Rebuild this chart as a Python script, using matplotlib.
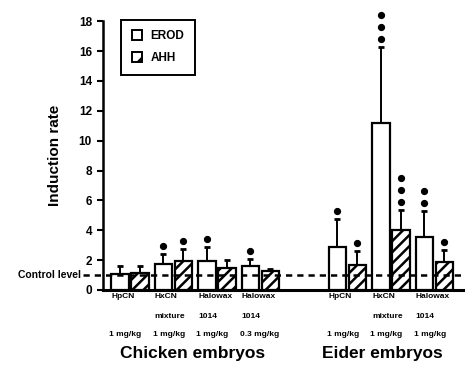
import matplotlib
matplotlib.use("Agg")
import matplotlib.pyplot as plt
import matplotlib.transforms as mtransforms
from matplotlib.patches import Patch
import numpy as np

plt.rcParams['font.family'] = ['Liberation Sans', 'DejaVu Sans']
plt.rcParams['font.weight'] = 'bold'
plt.rcParams['hatch.linewidth'] = 1.8

positions = [0, 1, 2, 3, 5, 6, 7]
row1 = ["HpCN", "HxCN", "Halowax", "Halowax", "HpCN", "HxCN", "Halowax"]
row2 = ["", "mixture", "1014", "1014", "", "mixture", "1014"]
row3 = ["1 mg/kg", "1 mg/kg", "1 mg/kg", "0.3 mg/kg", "1 mg/kg", "1 mg/kg", "1 mg/kg"]
erod = [1.05, 1.75, 1.95, 1.6, 2.9, 11.2, 3.55]
erod_top = [1.6, 2.4, 2.85, 2.1, 4.75, 16.3, 5.3]
ahh = [1.15, 1.95, 1.5, 1.25, 1.7, 4.0, 1.9]
ahh_top = [1.6, 2.75, 2.0, 1.4, 2.6, 5.35, 2.65]
erod_stars = [0, 1, 1, 1, 1, 3, 2]
ahh_stars = [0, 1, 0, 0, 1, 3, 1]
groups = ["Chicken embryos", "Eider embryos"]
group_pos = [1.43, 5.8]
yticks = [0, 2, 4, 6, 8, 10, 12, 14, 16, 18]
control = 1.0

fig = plt.figure(figsize=(4.77, 3.65), dpi=100)
ax = fig.add_axes([0.216, 0.2055, 0.755, 0.7365])

x = np.array(positions, dtype=float)
w = 0.4
off = 0.23

ax.bar(x - off, erod, width=w, color='white', edgecolor='black', linewidth=1.6, zorder=3)
ax.bar(x + off, ahh, width=w, color='white', edgecolor='black', linewidth=1.6,
       hatch='///', zorder=3)

for xs, vals, tops in [(x - off, erod, erod_top), (x + off, ahh, ahh_top)]:
    err = np.array(tops) - np.array(vals)
    ax.errorbar(xs, vals, yerr=[np.zeros_like(err), err], fmt='none', ecolor='black',
                elinewidth=1.4, capsize=2.5, capthick=2, zorder=2)

for xs, tops, ns in [(x - off, erod_top, erod_stars), (x + off, ahh_top, ahh_stars)]:
    for xi, t, n in zip(xs, tops, ns):
        for k in range(n):
            tr = mtransforms.offset_copy(ax.transData, fig=fig, x=0, y=5.8 + 8.6 * k, units='points')
            ax.plot([xi], [t], marker='o', ms=4.2, color='black', transform=tr,
                    clip_on=False, zorder=4)

ax.set_xlim(-0.62, 7.66)
ax.set_ylim(0, 18)
ax.set_yticks(yticks)
ax.set_yticklabels([str(v) for v in yticks], fontsize=8.5, fontweight='bold')
ax.tick_params(axis='y', direction='out', length=4, width=1.5, pad=4)
ax.set_xticks([])
for s in ['top', 'right']:
    ax.spines[s].set_visible(False)
ax.spines['left'].set_linewidth(1.8)
ax.spines['bottom'].set_linewidth(2.2)

ax.plot([-1.08, 7.66], [control, control], ls=(0, (2.5, 2)), color='black', lw=1.8,
        clip_on=False, zorder=5)
ax.text(-1.12, control, "Control level", ha='right', va='center', fontsize=7.5,
        fontweight='bold')

ax.set_ylabel("Induction rate", fontsize=11, fontweight='bold', labelpad=12)

trans = mtransforms.blended_transform_factory(ax.transData, ax.transAxes)
for xi, a, b, c in zip(x, row1, row2, row3):
    xl = xi - off - w / 2
    ax.text(xl, -0.026, a, transform=trans, ha='left', va='center', fontsize=6, fontweight='bold')
    ax.text(xl, -0.10, b, transform=trans, ha='left', va='center', fontsize=6, fontweight='bold')
    ax.text(xl - 0.05, -0.164, c, transform=trans, ha='left', va='center', fontsize=6, fontweight='bold')
for gp, g in zip(group_pos, groups):
    ax.text(gp, -0.235, g, transform=trans, ha='center', va='center', fontsize=12.5,
            fontweight='bold')

handles = [Patch(facecolor='white', edgecolor='black', linewidth=1.4, label='EROD'),
           Patch(facecolor='white', edgecolor='black', linewidth=1.4, hatch='//', label='AHH')]
leg = ax.legend(handles=handles, loc='upper left', bbox_to_anchor=(0.05, 1.005),
                borderaxespad=0, fancybox=False, edgecolor='black', framealpha=1,
                prop={'weight': 'bold', 'size': 8.5}, handlelength=0.9, handleheight=0.9,
                handletextpad=0.7, borderpad=0.9, labelspacing=0.8)
leg.get_frame().set_linewidth(1.4)
leg._legend_box.align = 'left'

fig.savefig("out.png", dpi=100)
